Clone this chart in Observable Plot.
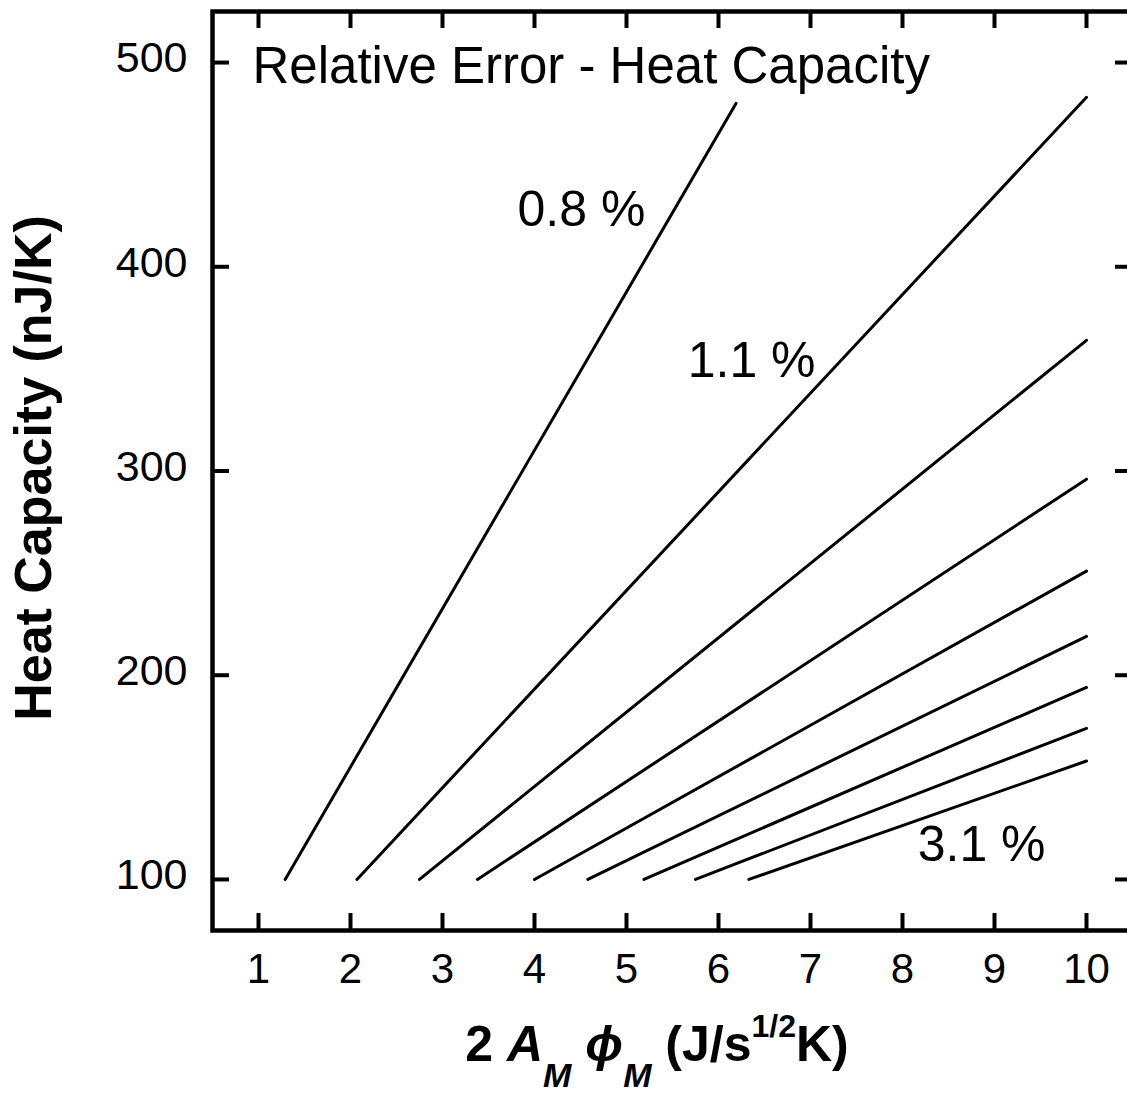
<!DOCTYPE html>
<html><head><meta charset="utf-8">
<script src="https://cdn.jsdelivr.net/npm/d3@7"></script>
<script src="https://cdn.jsdelivr.net/npm/@observablehq/plot@0.6"></script>
<style>html,body{margin:0;padding:0;background:#fff;overflow:hidden}</style>
</head><body><div id="chart"></div>
<script>
// ---- data ----
const curveIds = ["c1","c2","c3","c4","c5","c6","c7","c8","c9"];
const startX = [1.29, 2.07, 2.75, 3.38, 4.00, 4.58, 5.19, 5.75, 6.33];
const startC = [100, 100, 100, 100, 100, 100, 100, 100, 100];
const endX   = [6.19, 10, 10, 10, 10, 10, 10, 10, 10];
const endC   = [480, 483, 364, 296, 251, 219, 194, 174, 158];

const curveLabels = ["0.8 %", "1.1 %", "3.1 %"];
const labelX = [4.51, 6.36, 8.86];
const labelC = [420, 346, 109];

const titleText = "Relative Error - Heat Capacity";
const titleX = 0.935, titleC = 490;

const xTicks = [1, 2, 3, 4, 5, 6, 7, 8, 9, 10];
const yTicks = [100, 200, 300, 400, 500];
const yLabel = "Heat Capacity (nJ/K)";

// ---- build tables ----
const lineData = [];
curveIds.forEach((id, i) => {
  lineData.push({id, x: startX[i], c: startC[i]});
  lineData.push({id, x: endX[i], c: endC[i]});
});
const labelData = curveLabels.map((t, i) => ({t, x: labelX[i], c: labelC[i]}));

const FONT = "'Liberation Sans', Arial, Helvetica, sans-serif";
const W = 1127, H = 1097;
const mL = 212, mR = -5, mT = 11, mB = H - 930;
const fw = W - mL - mR, fh = H - mT - mB;
const TL = 17, TW = 4;

const plot = Plot.plot({
  width: W, height: H,
  marginLeft: mL, marginRight: mR, marginTop: mT, marginBottom: mB,
  style: {fontFamily: FONT, background: "#fff", color: "#000"},
  x: {domain: [0.5, 10.5]},
  y: {domain: [75, 525]},
  marks: [
    Plot.ruleX(xTicks, {x: d => d, insetTop: fh - TL, stroke: "#000", strokeWidth: TW}),
    Plot.ruleX(xTicks, {x: d => d, insetBottom: fh - TL, stroke: "#000", strokeWidth: TW}),
    Plot.ruleY(yTicks, {y: d => d, insetRight: fw - TL, stroke: "#000", strokeWidth: TW}),
    Plot.ruleY(yTicks, {y: d => d, insetLeft: fw - TL, stroke: "#000", strokeWidth: TW}),
    Plot.axisX(xTicks, {tickSize: 0, tickPadding: 23, fontSize: 42, label: null, fill: "#000"}),
    Plot.axisY(yTicks, {tickSize: 0, tickPadding: 25, fontSize: 43, dy: -4, label: null, fill: "#000"}),
    Plot.line(lineData, {x: "x", y: "c", z: "id", stroke: "#000", strokeWidth: 3}),
    Plot.text(labelData, {x: "x", y: "c", text: "t", fontSize: 50, lineAnchor: "bottom", textAnchor: "middle", fill: "#000"}),
    Plot.text([titleText], {x: () => titleX, y: () => titleC, text: d => d, fontSize: 51, lineAnchor: "bottom", textAnchor: "start", fill: "#000"}),
    Plot.text([yLabel], {frameAnchor: "left", text: d => d, rotate: -90, dx: -162, dy: -3, lineAnchor: "bottom", textAnchor: "middle", fontSize: 52, fontWeight: "bold", fill: "#000"}),
    Plot.frame({stroke: "#000", strokeWidth: 4.5})
  ]
});

document.getElementById("chart").appendChild(plot);

// x-axis title with italics, subscripts and superscript
const xs = plot.scale("x");
const cx = (xs.range[0] + xs.range[1]) / 2 - 15;
const t = d3.select(plot).append("text")
  .attr("x", cx).attr("y", 1061)
  .attr("text-anchor", "middle")
  .attr("font-family", FONT).attr("font-size", 50).attr("font-weight", "bold").attr("fill", "#000");
t.append("tspan").text("2 ");
t.append("tspan").attr("font-style", "italic").text("A");
t.append("tspan").attr("font-style", "italic").attr("font-size", 34).attr("dy", 26).text("M");
t.append("tspan").attr("dy", -26).text(" ");
t.append("tspan").attr("font-style", "italic").text("\u03D5");
t.append("tspan").attr("font-style", "italic").attr("font-size", 34).attr("dy", 26).text("M");
t.append("tspan").attr("dy", -26).text(" (J/s");
t.append("tspan").attr("font-size", 32).attr("dy", -24).text("1/2");
t.append("tspan").attr("dy", 24).text("K)");
</script>
</body></html>
